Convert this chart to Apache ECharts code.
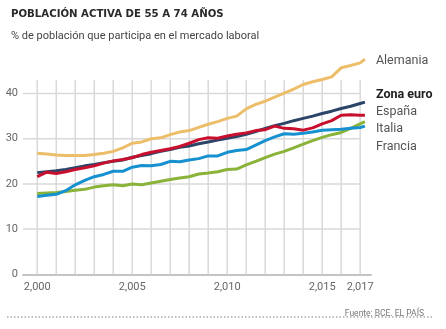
<!DOCTYPE html>
<html>
<head>
<meta charset="utf-8">
<script src="https://cdn.jsdelivr.net/npm/echarts@6/dist/echarts.min.js"></script>
<style>
html,body{margin:0;padding:0;background:#fff;}
#chart{width:446px;height:329px;}
</style>
</head>
<body>
<div id="chart"></div>
<script>
const periods = [2000,2000.5,2001,2001.5,2002,2002.5,2003,2003.5,2004,2004.5,2005,2005.5,2006,2006.5,2007,2007.5,2008,2008.5,2009,2009.5,2010,2010.5,2011,2011.5,2012,2012.5,2013,2013.5,2014,2014.5,2015,2015.5,2016,2016.5,2017,2017.25];
const alemania = [26.8,26.6,26.4,26.3,26.3,26.3,26.5,26.8,27.2,28.0,29.0,29.3,30.0,30.2,30.9,31.5,31.8,32.5,33.2,33.8,34.5,35.0,36.6,37.6,38.3,39.2,40.1,41.0,42.0,42.6,43.1,43.7,45.7,46.2,46.8,47.6];
const zonaEuro = [22.5,22.7,22.9,23.2,23.6,24.0,24.3,24.7,25.0,25.3,25.9,26.3,26.7,27.2,27.6,28.1,28.4,28.9,29.3,29.7,30.1,30.5,31.0,31.6,32.3,32.9,33.4,34.0,34.5,35.0,35.6,36.1,36.7,37.2,37.8,38.1];
const espana = [21.6,22.6,22.3,22.7,23.2,23.6,24.0,24.6,25.1,25.4,25.8,26.5,27.0,27.4,27.8,28.3,29.0,29.8,30.2,30.1,30.6,31.0,31.3,31.8,32.0,32.8,32.3,32.2,31.9,32.4,33.3,34.0,35.2,35.3,35.2,35.2];
const italia = [17.9,18.0,18.1,18.3,18.6,18.8,19.3,19.6,19.8,19.6,20.0,19.8,20.2,20.6,21.0,21.3,21.6,22.2,22.4,22.7,23.2,23.3,24.2,25.0,25.8,26.6,27.2,28.0,28.8,29.6,30.3,30.9,31.4,32.3,33.3,33.8];
const francia = [17.2,17.5,17.7,18.5,19.8,20.8,21.6,22.1,22.8,22.8,23.7,24.1,24.0,24.3,25.0,24.9,25.3,25.6,26.2,26.2,27.0,27.4,27.6,28.6,29.6,30.4,31.1,31.0,31.2,31.5,31.9,32.0,32.1,32.3,32.5,32.8];
const seriesNames = ['Alemania','Zona euro','España','Italia','Francia'];
const yearTicks = [2000,2001,2002,2003,2004,2005,2006,2007,2008,2009,2010,2011,2012,2013,2014,2015,2016,2017];
const xLabels = [2000,2005,2010,2015,2017];
const yLabels = [0,10,20,30,40];
const yGrid = [10,20,30,40];

const X_MIN = 1999.25, X_MAX = 2017.57, Y_MAX = 43;
const X_GRID_END = yearTicks[yearTicks.length-1];
const chart = echarts.init(document.getElementById('chart'));
const font = 'Roboto, "Noto Sans", sans-serif';
function pts(arr){ return periods.map((p,i)=>[p,arr[i]]); }

function mk(name, arr, color, off, bold){
  return {
    name: name, type:'line', data: pts(arr), showSymbol:false, symbol:'none', clip:false,
    lineStyle:{color:color,width:3}, itemStyle:{color:color},
    emphasis:{disabled:true},
    endLabel:{show:true, formatter:name, distance:11, offset:[0,off],
      color: bold ? '#222' : '#555', fontWeight: bold ? 'bold':'normal',
      fontSize:12.5, fontFamily:font}
  };
}
function gridSeries(data, vertical){
  return {
    type:'custom', silent:true, clip:false, z:1, animation:false,
    data: data, encode:{x:0, y:1},
    renderItem:function(params, api){
      const p = api.value(0), q = api.value(1);
      let a, b;
      if (vertical) { a = api.coord([p, 0]); b = api.coord([p, Y_MAX]); }
      else { a = api.coord([X_MIN, q]); b = api.coord([X_GRID_END, q]); }
      return {type:'line', shape:{x1:a[0],y1:a[1],x2:b[0],y2:b[1]},
              style:{stroke:'#d9d9d9', lineWidth:1.5, fill:null}};
    }
  };
}

chart.setOption({
  animation:false,
  title:[
    {text:'POBLACIÓN ACTIVA DE 55 A 74 AÑOS', left:6, top:4,
     textStyle:{fontFamily:'"DejaVu Sans Condensed", "DejaVu Sans", sans-serif', fontWeight:'bold', fontSize:11.3, color:'#2a2a2a'}},
    {text:'% de población que participa en el mercado laboral', left:6, top:26,
     textStyle:{fontFamily:font, fontWeight:'normal', fontSize:11, color:'#444'}},
    {text:'Fuente: BCE. EL PAÍS', right:17, top:304,
     textStyle:{fontFamily:font, fontWeight:'normal', fontSize:8.5, color:'#777'}}
  ],
  grid:{left:23, right:75, top:80, bottom:54.7, containLabel:false},
  xAxis:{type:'value', min:X_MIN, max:X_MAX,
    axisLine:{show:true, lineStyle:{color:'#c4c4c4', width:2}},
    axisTick:{show:false},
    axisLabel:{customValues:xLabels, color:'#666', fontSize:11, fontFamily:font, margin:7},
    splitLine:{show:false}},
  yAxis:{type:'value', min:0, max:Y_MAX,
    axisLine:{show:false},
    axisTick:{show:false},
    axisLabel:{customValues:yLabels, color:'#666', fontSize:11, fontFamily:font, margin:5},
    splitLine:{show:false}},
  graphic:[{type:'line', shape:{x1:7,y1:317,x2:432,y2:317}, style:{stroke:'#aaa', lineWidth:1.5, lineDash:[1.5,2]}}],
  series:[
    gridSeries(yearTicks.map(y => [y, 0]), true),
    gridSeries(yGrid.map(v => [X_MIN, v]), false),
    mk(seriesNames[0], alemania, '#EDBE6A', 2, false),
    mk(seriesNames[3], italia, '#8AB33A', 7, false),
    mk(seriesNames[4], francia, '#1691CF', 21, false),
    mk(seriesNames[1], zonaEuro, '#2B4468', -7, true),
    mk(seriesNames[2], espana, '#C8102E', -3, false)
  ]
});
</script>
</body>
</html>
